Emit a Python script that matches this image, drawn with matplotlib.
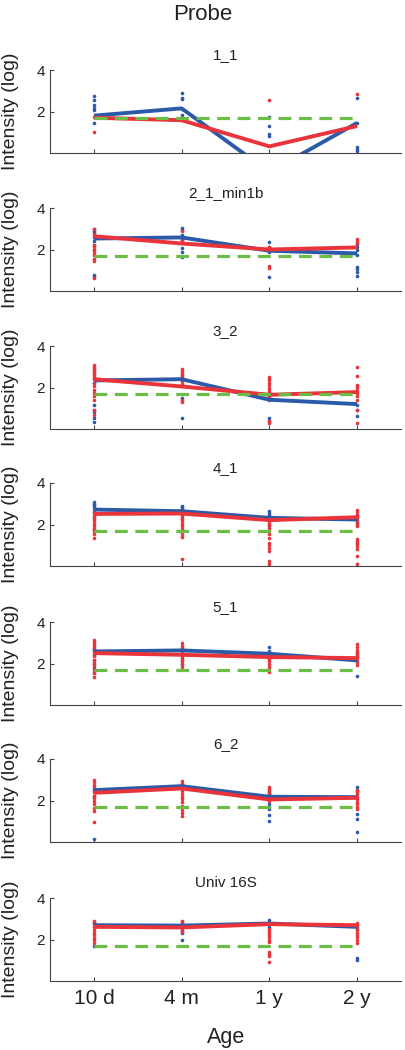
import numpy as np
import matplotlib.pyplot as plt

plt.rcParams['font.family'] = ['Liberation Sans', 'DejaVu Sans']

ages = ['10 d', '4 m', '1 y', '2 y']
probes = ['1_1', '2_1_min1b', '3_2', '4_1', '5_1', '6_2', 'Univ 16S']
cutoff = 1.7

blue_mean = [
    [1.80, 2.15, -0.92, 1.45],
    [2.53, 2.58, 1.94, 1.81],
    [2.34, 2.40, 1.41, 1.20],
    [2.72, 2.64, 2.32, 2.24],
    [2.58, 2.63, 2.47, 2.15],
    [2.50, 2.69, 2.18, 2.16],
    [2.69, 2.67, 2.77, 2.61],
]
red_mean = [
    [1.70, 1.58, 0.32, 1.30],
    [2.64, 2.29, 2.00, 2.10],
    [2.40, 2.05, 1.65, 1.78],
    [2.51, 2.53, 2.21, 2.35],
    [2.50, 2.42, 2.31, 2.26],
    [2.37, 2.58, 2.05, 2.13],
    [2.61, 2.58, 2.74, 2.69],
]

# individual samples, one list per age
blue_pts = [
    [[2.76, 2.55, 2.30, 2.19, 2.06, 1.45], [2.90, 2.65, 2.60, 1.85], [1.75, 1.30, 0.90, 0.80], [2.65, 1.45, 0.30, 0.20, 0.10]],
    [[2.98, 2.90, 2.85, 2.60, 2.42, 2.21, 1.97, 0.77, 0.66], [3.05, 2.93, 2.69, 2.55, 2.48, 2.05, 1.89, 1.62], [2.37, 2.13, 1.89, 0.66], [2.25, 2.13, 1.97, 1.73, 1.17, 1.05, 0.93, 0.72]],
    [[2.85, 2.21, 1.17, 0.93, 0.80, 0.53, 0.32], [2.60, 2.45, 1.49, 0.53], [0.53, 0.40], [1.17, 0.90, 0.64]],
    [[3.07, 3.00, 2.96, 2.85, 2.62, 2.37, 1.79], [2.91, 2.83, 2.75, 2.64, 2.50], [2.64, 2.55, 2.48, 2.40, 1.92], [2.48, 2.30, 2.10, 2.00]],
    [[2.72, 2.63, 2.40, 2.15, 1.98, 1.80, 1.53], [2.70, 1.98], [2.79, 2.60], [2.53, 2.35, 1.40]],
    [[2.55, 2.24, 0.13], [2.80, 2.70], [2.40, 2.30, 1.81, 1.70, 1.57, 1.28, 1.00], [2.66, 2.50, 1.33, 1.09, 0.48]],
    [[2.80, 1.68], [2.40, 2.30, 2.00], [2.93, 2.80, 2.60], [2.50, 1.09, 1.00]],
]
red_pts = [
    [[1.75, 1.02], [2.10], [2.55], [2.85]],
    [[3.00, 2.75, 2.21, 2.10, 1.97, 1.85, 1.73, 1.55, 1.44, 0.61], [2.90, 2.45], [2.13, 2.05, 1.97, 1.22, 1.09], [2.53, 2.40, 2.29]],
    [[3.09, 3.00, 2.93, 2.85, 2.77, 2.69, 2.61, 2.50, 2.40, 2.21, 2.05, 1.89, 1.73, 1.57, 1.41, 0.93, 0.69],
     [2.88, 2.78, 2.69, 2.60, 2.50, 2.40, 2.29, 2.17, 2.05, 1.41, 1.30],
     [2.50, 2.42, 2.34, 2.24, 2.13, 2.00, 1.89, 1.77, 1.65, 1.53, 1.41, 0.37, 0.29],
     [2.98, 2.56, 2.13, 2.05, 1.97, 1.85, 1.73, 1.57, 1.41, 0.93, 0.29]],
    [[2.72, 2.56, 2.40, 2.28, 2.16, 2.04, 1.92, 1.80, 1.68, 1.52, 1.36],
     [2.56, 2.47, 2.37, 2.27, 2.16, 2.04, 1.92, 1.80, 1.68, 1.55, 1.41, 0.35],
     [2.08, 1.96, 1.84, 1.68, 1.52, 1.35, 1.12, 1.00, 0.88, 0.72, 0.24, 0.08],
     [2.72, 2.60, 2.48, 2.36, 2.24, 2.08, 1.92, 1.28, 1.20, 1.12, 1.04, 0.96, 0.80, 0.48, 0.08]],
    [[3.15, 3.05, 2.95, 2.85, 2.74, 2.55, 2.34, 2.18, 2.02, 1.86, 1.69, 1.53, 1.37],
     [2.98, 2.86, 2.74, 2.62, 2.50, 2.38, 2.26, 2.18, 2.10, 1.97, 1.85],
     [2.50, 2.42, 2.34, 2.22, 2.10, 1.98, 1.85, 1.73, 1.61],
     [2.95, 2.80, 2.66, 2.54, 2.42, 2.30, 2.18, 2.06, 1.94]],
    [[2.98, 2.87, 2.77, 2.65, 2.53, 2.40, 2.24, 2.10, 1.97, 1.81, 1.65, 1.49, 0.96],
     [2.93, 2.81, 2.69, 2.57, 2.45, 2.31, 2.18, 2.05, 1.92, 1.73, 1.54, 1.40, 1.25],
     [2.66, 2.55, 2.45, 2.33, 2.21, 2.09, 1.97],
     [2.53, 2.41, 2.29, 2.17, 2.05, 1.93, 1.81, 1.69, 1.57]],
    [[2.90, 2.83, 2.77, 2.61, 2.45, 2.33, 2.21, 2.09, 1.97, 1.81],
     [2.90, 2.82, 2.74, 2.66, 2.58, 2.47, 2.37],
     [2.53, 2.41, 2.29, 2.20, 2.10, 2.00, 1.89, 1.41, 1.30, 1.20, 0.93],
     [2.80, 2.70, 2.61, 2.46, 2.32, 2.21, 2.10, 1.97, 1.84]],
]

blue = '#2b5ba8'
red = '#e8343a'
green = '#6cbd45'
axcol = '#444444'

W, H = 405, 1050
fig = plt.figure(figsize=(W / 100, H / 100), dpi=100)
tops = [70, 208, 346, 483, 622, 759, 898]
ph = 83
x = np.arange(1, 5)

for i, name in enumerate(probes):
    ax = fig.add_axes([50 / W, 1 - (tops[i] + ph) / H, 351 / W, ph / H])
    for j in range(4):
        ax.plot([x[j]] * len(blue_pts[i][j]), blue_pts[i][j], 'o', color=blue, ms=2.6, mew=0)
        ax.plot([x[j]] * len(red_pts[i][j]), red_pts[i][j], 'o', color=red, ms=2.6, mew=0)
    ax.plot(x, blue_mean[i], color=blue, lw=2.8, solid_capstyle='butt')
    ax.plot(x, red_mean[i], color=red, lw=2.8, solid_capstyle='butt')
    ax.plot([1, 4], [cutoff, cutoff], color=green, lw=2.3, dashes=(4, 2.4))
    ax.set_xlim(0.5, 4.5)
    ax.set_ylim(0, 4)
    ax.set_yticks([2, 4])
    ax.set_xticks(x)
    if i == len(probes) - 1:
        ax.set_xticklabels(ages, fontsize=15)
    else:
        ax.set_xticklabels([])
    for s in ['top', 'right']:
        ax.spines[s].set_visible(False)
    for s in ['left', 'bottom']:
        ax.spines[s].set_color(axcol)
        ax.spines[s].set_linewidth(0.8)
    ax.tick_params(direction='in', length=3, colors=axcol, labelcolor='#222222', labelsize=11)
    ax.tick_params(axis='x', labelsize=15, pad=6)
    ax.set_title(name, fontsize=11, pad=8, color='#222222')
    fig.text(11 / W, 1 - (tops[i] + ph / 2) / H, 'Intensity (log)', rotation=90,
             ha='center', va='center', fontsize=14, color='#222222')

fig.text(0.5, 1 - 14 / H, 'Probe', ha='center', va='center', fontsize=16, color='#222222')
fig.text(226 / W, 1 - 1038 / H, 'Age', ha='center', va='center', fontsize=15.5, color='#222222')

fig.savefig('out.png', dpi=100)
